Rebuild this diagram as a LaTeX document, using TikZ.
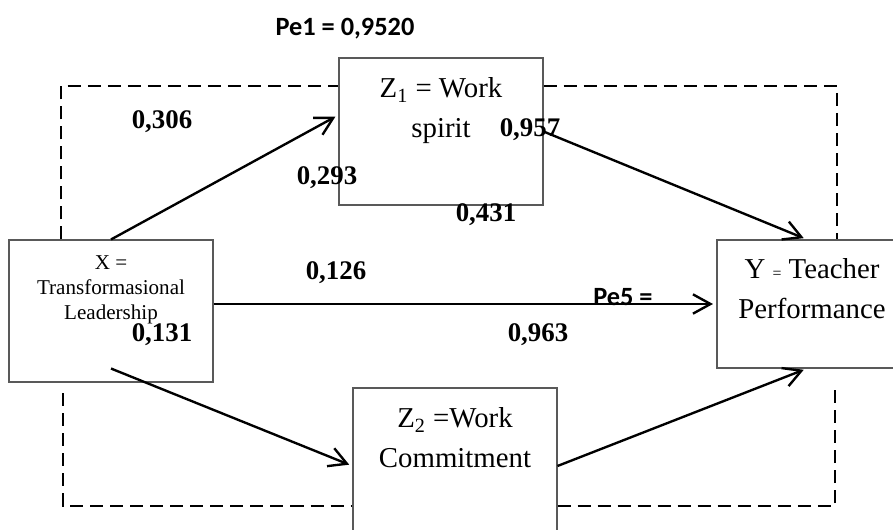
\documentclass[tikz,border=0pt]{standalone}
\usepackage{fontspec}
\setmainfont{Liberation Serif}
\newfontfamily\calibri{Carlito}
\usetikzlibrary{positioning,arrows.meta}

\tikzset{
  var/.style={draw=black!65, line width=0.6pt, minimum width=4.08cm, inner sep=0pt},
  vartext/.style={align=center, anchor=north, inner sep=0pt, font=\fontsize{16.4}{22.7}\selectfont},
  coef/.style={font=\fontsize{15.3}{15.3}\selectfont\bfseries},
  pe/.style={font=\calibri\fontsize{15}{15}\selectfont\bfseries},
  link/.style={line width=1.35pt, -{Straight Barb[length=10pt,width=11pt,line width=1.35pt]}, shorten >=2pt},
  outer/.style={line width=1.1pt, dash pattern=on 7.4pt off 4pt}
}

\begin{document}
\begin{tikzpicture}[x=0.02cm,y=-0.02cm]
\tikzstyle{every node}+=[inner sep=0pt]
\clip (0,0) rectangle (893,530);
\node [var, minimum height=2.84cm,
  label={[vartext, yshift=-0.32cm, font=\fontsize{12}{14.2}\selectfont]north:{X =\\Transformasional\\Leadership}}] (x) at (111,311) {};
\node [var, minimum height=2.94cm,
  label={[vartext, yshift=-0.4cm]north:{Z\textsubscript{1} = Work\\spirit}}] (zone) at (441,131.5) {};
\node [var, minimum width=3.8cm, minimum height=2.56cm,
  label={[vartext, yshift=-0.38cm]north:{Y {\fontsize{9}{9}\selectfont =} Teacher\\Performance}}] (y) at (812,304) {};
\node [var, minimum height=3.12cm,
  label={[vartext, yshift=-0.4cm]north:{Z\textsubscript{2} =Work\\Commitment}}] (ztwo) at (455,466) {};
\coordinate (tl) at (61,86);
\coordinate (tr) at (837,86);
\coordinate (blt) at (63,393);
\coordinate (bl) at (63,506);
\coordinate (br) at (835,506);
\draw [outer] (x.north -| tl) -- (tl) -- (tl -| zone.west);
\draw [outer] (zone.east |- tr) -- (tr) -- (tr |- y.north);
\draw [outer] (blt) -- (bl) -- (bl -| ztwo.west);
\draw [outer] (ztwo.east |- br) -- (br) -- (br |- ztwo.north);
\node [pe] (pe1) at (345,29) {Pe1 = 0,9520};
\node [pe] (pe5) at (623,297) {Pe5 =};
\node [coef] (c306) at (162,122) {0,306};
\node [coef] (c293) at (327,178) {0,293};
\node [coef] (c957) at (530,130) {0,957};
\node [coef] (c431) at (486,215) {0,431};
\node [coef] (c126) at (336,273) {0,126};
\node [coef] (c131) at (162,335) {0,131};
\node [coef] (c963) at (538,335) {0,963};
\draw [link] (x.north) -- ([yshift=0.33cm]zone.west);
\draw [link] (zone.east) -- ([xshift=-0.1cm]y.north);
\draw [link] (x.east |- y.west) -- (y.west);
\draw [link] ([yshift=0.28cm]x.south) -- (ztwo.west);
\draw [link] (ztwo.east) -- ([xshift=-0.1cm]y.south);
\end{tikzpicture}
\end{document}
